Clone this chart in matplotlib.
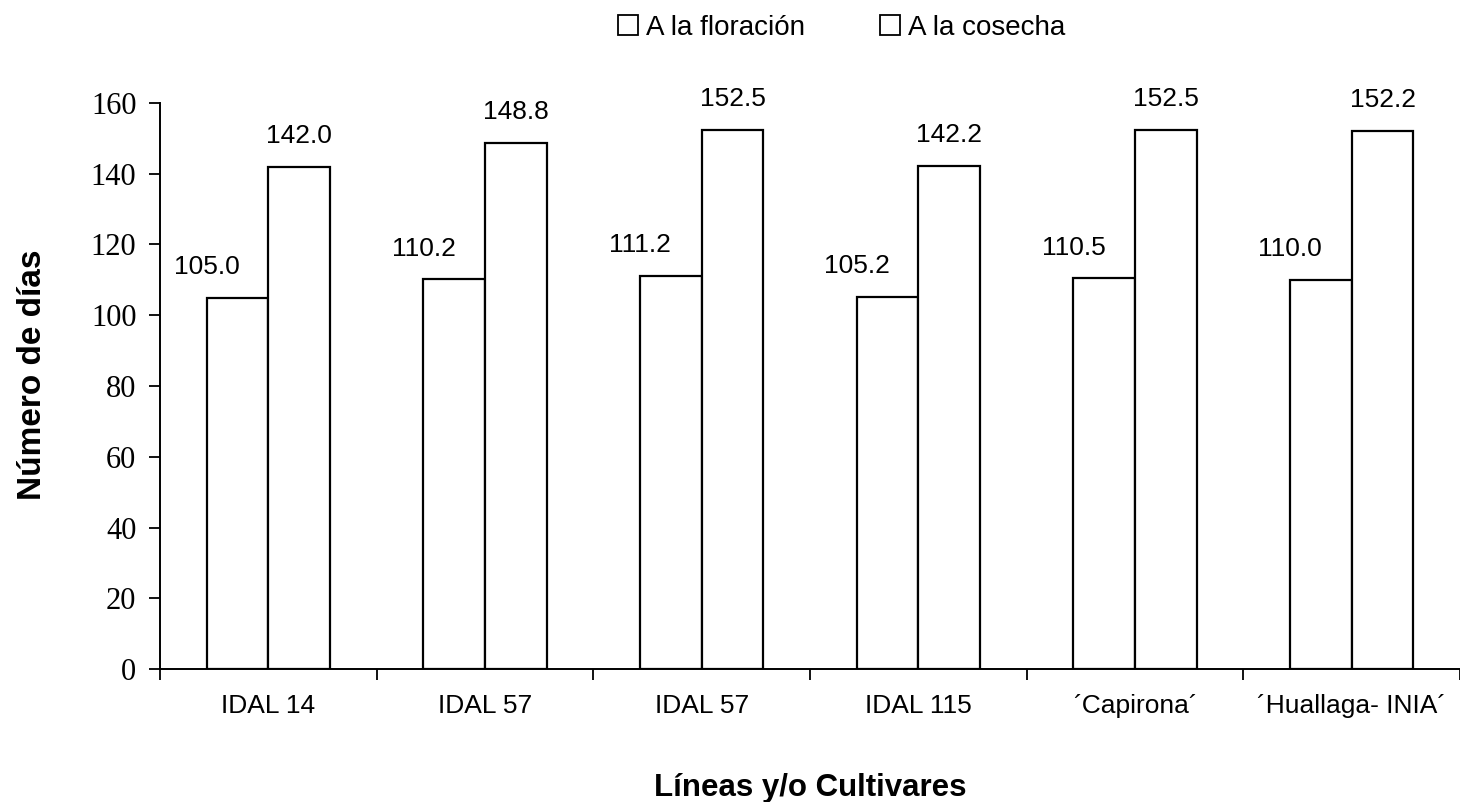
import numpy as np
import matplotlib.pyplot as plt
from matplotlib.lines import Line2D

# dias a la floracion y a la cosecha por linea / cultivar
cultivares = ["IDAL 14", "IDAL 57", "IDAL 57", "IDAL 115", "´Capirona´", "´Huallaga- INIA´"]
floracion = [105.0, 110.2, 111.2, 105.2, 110.5, 110.0]
cosecha = [142.0, 148.8, 152.5, 142.2, 152.5, 152.2]
series = ["A la floración", "A la cosecha"]

plt.rcParams['font.family'] = ['Liberation Sans', 'DejaVu Sans']

fig = plt.figure(figsize=(14.6, 8.02), dpi=100)
ax = fig.add_axes([0.1096, 0.1658, 0.8904, 0.7058])

x = np.arange(len(cultivares))
ancho = 0.285
kw = dict(width=ancho, color='white', edgecolor='black', linewidth=1.6)
b1 = ax.bar(x - ancho / 2, floracion, **kw)
b2 = ax.bar(x + ancho / 2, cosecha, **kw)

for rect, v in zip(b1, floracion):
    ax.annotate(f"{v:.1f}", (rect.get_x() + rect.get_width() / 2, v),
                xytext=(-22, 22), textcoords='offset points',
                ha='center', va='center', fontsize=19)
for rect, v in zip(b2, cosecha):
    ax.annotate(f"{v:.1f}", (rect.get_x() + rect.get_width() / 2, v),
                xytext=(0, 22), textcoords='offset points',
                ha='center', va='center', fontsize=19)

ax.set_xlim(-0.5, len(cultivares) - 0.5)
ax.set_ylim(0, 160)
ax.set_yticks(np.arange(0, 161, 20))
for lab in ax.get_yticklabels():
    lab.set_family('Liberation Serif')
    lab.set_fontsize(22)

# ticks entre grupos, etiquetas en el centro
ax.set_xticks(np.arange(-0.5, len(cultivares), 1.0))
ax.set_xticklabels([])
ax.set_xticks(x, minor=True)
ax.set_xticklabels(cultivares, minor=True, fontsize=19)
ax.tick_params(axis='x', which='minor', length=0, pad=18)
ax.tick_params(axis='x', which='major', length=8, width=1.3, direction='out')
ax.tick_params(axis='y', length=8, width=1.3, direction='out', pad=9)

for s in ['top', 'right']:
    ax.spines[s].set_visible(False)
for s in ['left', 'bottom']:
    ax.spines[s].set_linewidth(1.4)

ax.set_ylabel("Número de días", fontsize=24, fontweight='bold')
ax.yaxis.set_label_coords(-0.086, 0.52)
ax.set_xlabel("Líneas y/o Cultivares", fontsize=22.5, fontweight='bold')
ax.xaxis.set_label_coords(0.5, -0.184)

handles = [Line2D([], [], marker='s', linestyle='none', markersize=14,
                  markerfacecolor='white', markeredgecolor='black',
                  markeredgewidth=1.3) for _ in series]
fig.legend(handles, series, loc='center', bbox_to_anchor=(0.575, 0.965),
           ncol=2, frameon=False, fontsize=20, handletextpad=0.15,
           columnspacing=2.55, handlelength=1.0)

fig.savefig("out.png", dpi=100)
